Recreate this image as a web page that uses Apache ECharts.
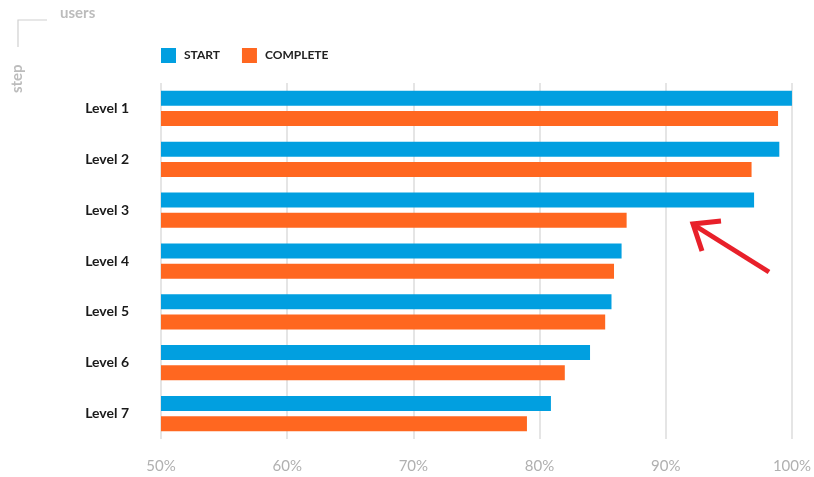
<!DOCTYPE html>
<html>
<head>
<meta charset="utf-8">
<script src="https://cdn.jsdelivr.net/npm/echarts@6/dist/echarts.min.js"></script>
<style>
  html, body { margin: 0; padding: 0; background: #fff; }
  #main { width: 814px; height: 477px; }
</style>
</head>
<body>
<div id="main"></div>
<script>
// 数据
var levels = ['Level 1', 'Level 2', 'Level 3', 'Level 4', 'Level 5', 'Level 6', 'Level 7'];
var startData = [100, 99, 97, 86.5, 85.7, 84, 80.9];
var completeData = [98.9, 96.8, 86.9, 85.9, 85.2, 82, 79];
var xTicks = [50, 60, 70, 80, 90, 100];

var myChart = echarts.init(document.getElementById('main'));

var option = {
    animation: false,
    textStyle: { fontFamily: 'Lato' },
    color: ['#019fe0', '#ff6720'],
    legend: {
        left: 161,
        top: 48,
        padding: 0,
        itemWidth: 15,
        itemHeight: 15,
        itemGap: 22,
        icon: 'rect',
        textStyle: { fontSize: 12, fontWeight: 'bold', color: '#222', padding: [1, 0, 0, 3] },
        data: [{ name: 'START' }, { name: 'COMPLETE' }]
    },
    grid: { left: 161, right: 21, top: 83, bottom: 38 },
    xAxis: {
        type: 'value',
        min: xTicks[0],
        max: xTicks[xTicks.length - 1],
        interval: 10,
        axisLine: { show: false },
        axisTick: { show: false },
        splitLine: { show: true, lineStyle: { color: '#dcdcdc', width: 1.5 } },
        axisLabel: {
            margin: 20,
            fontSize: 15,
            color: '#b0b0b0',
            formatter: '{value}%'
        }
    },
    yAxis: {
        type: 'category',
        inverse: true,
        data: levels,
        axisLine: { show: false },
        axisTick: { show: false },
        axisLabel: { margin: 32, fontSize: 14, fontWeight: 'bold', color: '#1a1a1a' }
    },
    series: [
        { name: 'START', type: 'bar', data: startData, barWidth: 15, barGap: '35%' },
        { name: 'COMPLETE', type: 'bar', data: completeData, barWidth: 15, barGap: '35%' }
    ],
    graphic: [
        // 左上角坐标说明
        { type: 'polyline', shape: { points: [[47, 20], [18, 20], [18, 47]] },
          style: { stroke: '#d0d0d0', lineWidth: 1.2, fill: null } },
        { type: 'text', left: 60, top: 6,
          style: { text: 'users', fill: '#bcbcbc', font: 'bold 15px Lato' } },
        { type: 'text', x: 10, y: 93, rotation: Math.PI / 2,
          style: { text: 'step', fill: '#bcbcbc', font: 'bold 15px Lato' } },
        // 红色箭头
        { type: 'line', shape: { x1: 769, y1: 272, x2: 694, y2: 225 },
          style: { stroke: '#e8202a', lineWidth: 5 } },
        { type: 'polyline', shape: { points: [[721, 221], [693, 224], [702, 251]] },
          style: { stroke: '#e8202a', lineWidth: 5, fill: null } }
    ]
};
myChart.setOption(option);
</script>
</body>
</html>
